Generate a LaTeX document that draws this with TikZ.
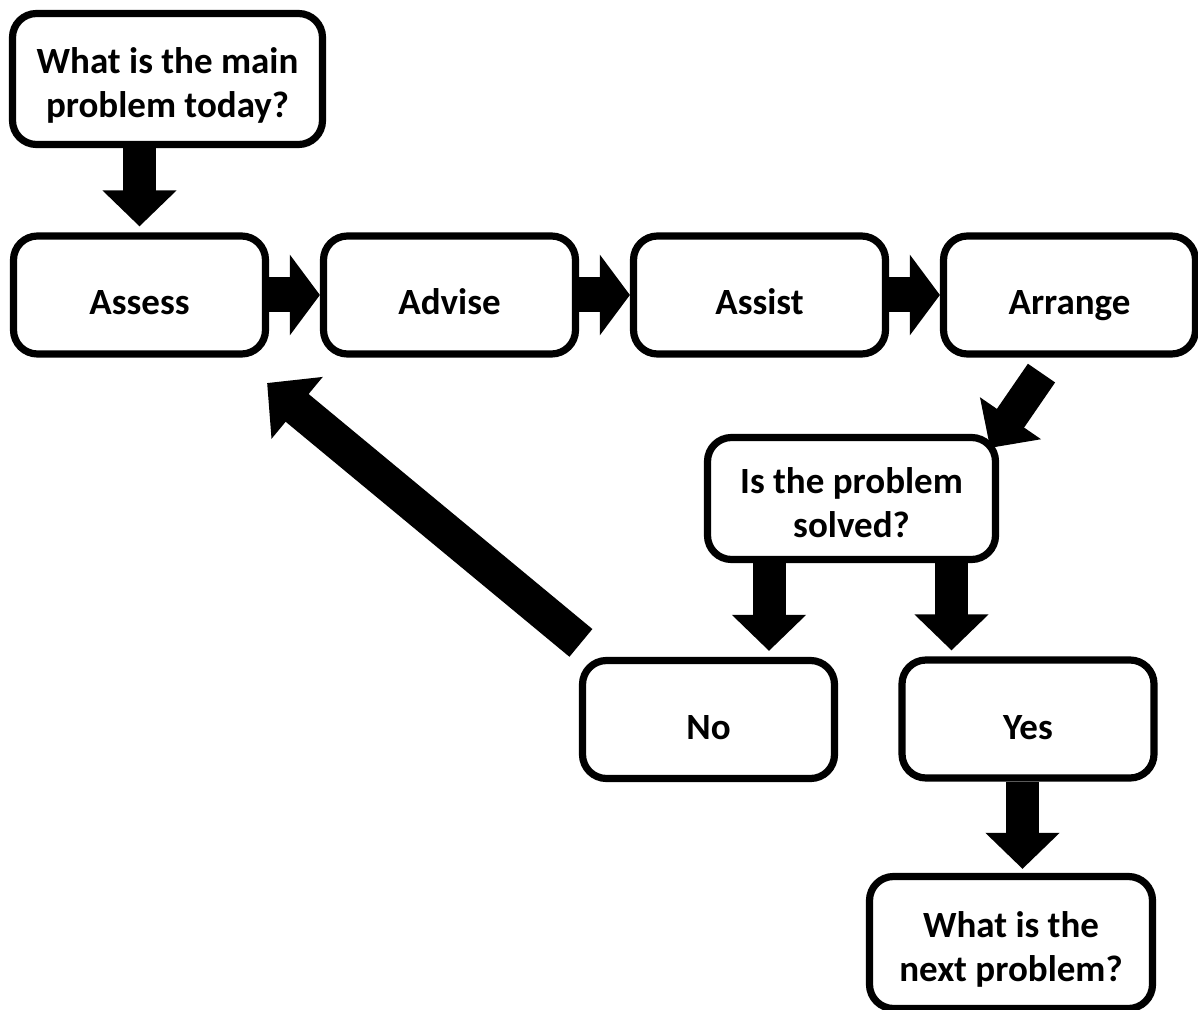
\documentclass[tikz,border=0pt]{standalone}
\usepackage{fontspec}
\setmainfont{Carlito}
\usetikzlibrary{arrows.meta}

\begin{document}
\begin{tikzpicture}[x=0.5pt, y=-0.5pt, box/.style={draw, line width=3.6pt, rounded corners=12pt, minimum width=126pt, minimum height=59pt, inner ysep=1pt, text height=25pt, text depth=5pt, align=center, font=\fontsize{18.5}{22}\selectfont\bfseries}, twoline/.style={text height=44pt}, harrow/.style={line width=17.5pt, -{Triangle[width=39.5pt, length=15pt]}}, varrow/.style={line width=16.5pt, -{Triangle[width=36pt, length=18pt]}},]
     \useasboundingbox (0,0) rectangle (1198,1010);
     \node[box, twoline, minimum width=155pt, minimum height=65.5pt] (today) at (167.5,79) {What is the main\\problem today?};
     \node[box] (assess) at (139.5,295) {Assess};
     \node[box, right of=assess, node distance=155pt] (advise) {Advise};
     \node[box, right of=advise, node distance=155pt] (assist) {Assist};
     \node[box, right of=assist, node distance=155pt] (arrange) {Arrange};
     \node[box, twoline, minimum width=144pt, minimum height=61pt] (solved) at (851.5,498.5) {Is the problem\\solved?};
     \node[box] (no) at (708.5,719.5) {No};
     \node[box] (yes) at (1028,719) {Yes};
     \node[box, twoline, minimum width=141.5pt, minimum height=66pt] (next) at (1011,942.5) {What is the\\next problem?};
     \draw[varrow, shorten >=3pt] (today.south -| assess) -- (assess);
     \foreach \a/\b in {assess/advise, advise/assist, assist/arrange}
        \draw[harrow] (\a) -- (\b);
     \draw[varrow] ([shift={(-14pt,-7.75pt)}]arrange.south) -- ([shift={(-4.5pt,-7pt)}]solved.north east);
     \draw[varrow, shorten >=3pt] ([xshift=-41.25pt]solved.south) -- ([xshift=30.25pt]no.north);
     \draw[varrow, shorten >=3pt] ([xshift=50pt]solved.south) -- ([xshift=-38.25pt]yes.north);
     \draw[line width=18pt, -{Triangle[width=39pt, length=19.5pt]}] ([shift={(1pt,7pt)}]no.north west) -- ([shift={(-1pt,-12.7pt)}]assess.south east);
     \draw[varrow, shorten >=2pt] ([xshift=-2.75pt]yes.south) -- ([xshift=5.75pt]next.north);
   \end{tikzpicture}
\end{document}
